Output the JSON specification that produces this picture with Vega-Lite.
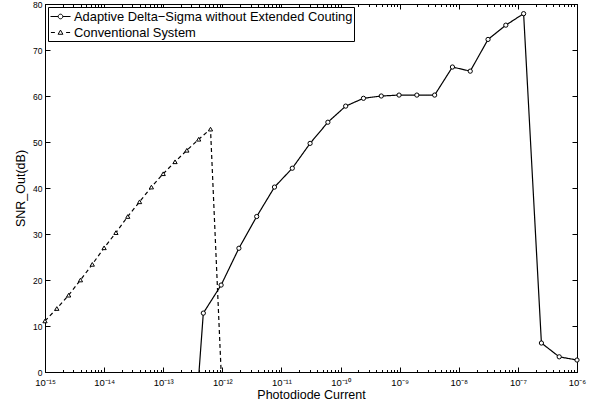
{
  "$schema": "https://vega.github.io/schema/vega-lite/v6.json",
  "width": 532,
  "height": 368,
  "autosize": {"type": "none"},
  "padding": {"left": 45, "top": 4, "right": 19, "bottom": 37},
  "background": "white",
  "config": {
    "font": "Liberation Sans",
    "view": {"stroke": "black", "strokeWidth": 1},
    "axis": {"domainColor": "black", "tickColor": "black", "labelColor": "black", "titleColor": "black", "grid": false, "labelFont": "Liberation Sans", "titleFont": "Liberation Sans", "titleFontWeight": "normal"}
  },
  "datasets": {
    "pts": [
      {"s": "Adaptive Delta−Sigma without Extended Couting", "x": 2.384e-13, "y": -40},
      {"s": "Adaptive Delta−Sigma without Extended Couting", "x": 4.768e-13, "y": 12.8},
      {"s": "Adaptive Delta−Sigma without Extended Couting", "x": 9.537e-13, "y": 18.9},
      {"s": "Adaptive Delta−Sigma without Extended Couting", "x": 1.907e-12, "y": 26.9},
      {"s": "Adaptive Delta−Sigma without Extended Couting", "x": 3.815e-12, "y": 33.8},
      {"s": "Adaptive Delta−Sigma without Extended Couting", "x": 7.629e-12, "y": 40.2},
      {"s": "Adaptive Delta−Sigma without Extended Couting", "x": 1.526e-11, "y": 44.3},
      {"s": "Adaptive Delta−Sigma without Extended Couting", "x": 3.052e-11, "y": 49.7},
      {"s": "Adaptive Delta−Sigma without Extended Couting", "x": 6.104e-11, "y": 54.3},
      {"s": "Adaptive Delta−Sigma without Extended Couting", "x": 1.221e-10, "y": 57.8},
      {"s": "Adaptive Delta−Sigma without Extended Couting", "x": 2.441e-10, "y": 59.5},
      {"s": "Adaptive Delta−Sigma without Extended Couting", "x": 4.883e-10, "y": 60.0},
      {"s": "Adaptive Delta−Sigma without Extended Couting", "x": 9.766e-10, "y": 60.2},
      {"s": "Adaptive Delta−Sigma without Extended Couting", "x": 1.953e-9, "y": 60.2},
      {"s": "Adaptive Delta−Sigma without Extended Couting", "x": 3.906e-9, "y": 60.2},
      {"s": "Adaptive Delta−Sigma without Extended Couting", "x": 7.813e-9, "y": 66.3},
      {"s": "Adaptive Delta−Sigma without Extended Couting", "x": 1.563e-8, "y": 65.4},
      {"s": "Adaptive Delta−Sigma without Extended Couting", "x": 3.125e-8, "y": 72.3},
      {"s": "Adaptive Delta−Sigma without Extended Couting", "x": 6.25e-8, "y": 75.4},
      {"s": "Adaptive Delta−Sigma without Extended Couting", "x": 1.25e-7, "y": 77.9},
      {"s": "Adaptive Delta−Sigma without Extended Couting", "x": 2.5e-7, "y": 6.3},
      {"s": "Adaptive Delta−Sigma without Extended Couting", "x": 5e-7, "y": 3.3},
      {"s": "Adaptive Delta−Sigma without Extended Couting", "x": 1e-6, "y": 2.6},
      {"s": "Conventional System", "x": 1e-15, "y": 11.1},
      {"s": "Conventional System", "x": 1.585e-15, "y": 13.8},
      {"s": "Conventional System", "x": 2.512e-15, "y": 16.7},
      {"s": "Conventional System", "x": 3.981e-15, "y": 20.0},
      {"s": "Conventional System", "x": 6.31e-15, "y": 23.4},
      {"s": "Conventional System", "x": 1e-14, "y": 27.0},
      {"s": "Conventional System", "x": 1.585e-14, "y": 30.3},
      {"s": "Conventional System", "x": 2.512e-14, "y": 33.8},
      {"s": "Conventional System", "x": 3.981e-14, "y": 37.0},
      {"s": "Conventional System", "x": 6.31e-14, "y": 40.2},
      {"s": "Conventional System", "x": 1e-13, "y": 43.1},
      {"s": "Conventional System", "x": 1.585e-13, "y": 45.7},
      {"s": "Conventional System", "x": 2.512e-13, "y": 48.2},
      {"s": "Conventional System", "x": 3.981e-13, "y": 50.6},
      {"s": "Conventional System", "x": 6.31e-13, "y": 52.8},
      {"s": "Conventional System", "x": 1e-12, "y": -6}
    ]
  },
  "data": {"name": "pts"},
  "layer": [
    {
      "mark": {"type": "line", "clip": true, "color": "black", "strokeWidth": 1.2},
      "encoding": {
        "x": {
          "field": "x", "type": "quantitative",
          "scale": {"type": "log", "domain": [1e-15, 1e-6], "nice": false},
          "axis": {
            "orient": "bottom",
            "values": [1e-15,2e-15,3e-15,4e-15,5e-15,6e-15,7e-15,8e-15,9e-15,1e-14,2e-14,3e-14,4e-14,5e-14,6e-14,7e-14,8e-14,9e-14,1e-13,2e-13,3e-13,4e-13,5e-13,6e-13,7e-13,8e-13,9e-13,1e-12,2e-12,3e-12,4e-12,5e-12,6e-12,7e-12,8e-12,9e-12,1e-11,2e-11,3e-11,4e-11,5e-11,6e-11,7e-11,8e-11,9e-11,1e-10,2e-10,3e-10,4e-10,5e-10,6e-10,7e-10,8e-10,9e-10,1e-9,2e-9,3e-9,4e-9,5e-9,6e-9,7e-9,8e-9,9e-9,1e-8,2e-8,3e-8,4e-8,5e-8,6e-8,7e-8,8e-8,9e-8,1e-7,2e-7,3e-7,4e-7,5e-7,6e-7,7e-7,8e-7,9e-7,1e-6],
            "labelExpr": "abs(log(datum.value)/LN10 - round(log(datum.value)/LN10)) < 0.01 ? '10' + (round(log(datum.value)/LN10) == -15 ? '⁻¹⁵' : round(log(datum.value)/LN10) == -14 ? '⁻¹⁴' : round(log(datum.value)/LN10) == -13 ? '⁻¹³' : round(log(datum.value)/LN10) == -12 ? '⁻¹²' : round(log(datum.value)/LN10) == -11 ? '⁻¹¹' : round(log(datum.value)/LN10) == -10 ? '⁻¹⁰' : round(log(datum.value)/LN10) == -9 ? '⁻⁹' : round(log(datum.value)/LN10) == -8 ? '⁻⁸' : round(log(datum.value)/LN10) == -7 ? '⁻⁷' : '⁻⁶') : ''",
            "tickSize": {"condition": {"test": "abs(log(datum.value)/LN10 - round(log(datum.value)/LN10)) < 0.01", "value": -5}, "value": -2.5},
            "labelFontSize": 9.5,
            "labelPadding": 10.5,
            "labelOverlap": false,
            "labelFlush": false,
            "title": "Photodiode Current",
            "titleFontSize": 12.5,
            "titlePadding": -1
          }
        },
        "y": {
          "field": "y", "type": "quantitative",
          "scale": {"domain": [0, 80], "nice": false},
          "axis": {
            "orient": "left",
            "values": [0, 10, 20, 30, 40, 50, 60, 70, 80],
            "tickSize": -5,
            "labelPadding": 8,
            "labelFontSize": 8.5,
            "title": "SNR_Out(dB)",
            "titleFontSize": 12.5,
            "titlePadding": 5
          }
        },
        "strokeDash": {
          "field": "s", "type": "nominal",
          "scale": {"domain": ["Adaptive Delta−Sigma without Extended Couting", "Conventional System"], "range": [[1, 0], [4, 3]]},
          "legend": null
        }
      }
    },
    {
      "transform": [{"filter": "datum.y >= 0"}],
      "mark": {"type": "point", "clip": false, "filled": true, "fill": "white", "stroke": "black", "strokeWidth": 1, "opacity": 1, "size": 18},
      "encoding": {
        "x": {
          "field": "x", "type": "quantitative",
          "axis": {
            "orient": "top",
            "values": [1e-15,2e-15,3e-15,4e-15,5e-15,6e-15,7e-15,8e-15,9e-15,1e-14,2e-14,3e-14,4e-14,5e-14,6e-14,7e-14,8e-14,9e-14,1e-13,2e-13,3e-13,4e-13,5e-13,6e-13,7e-13,8e-13,9e-13,1e-12,2e-12,3e-12,4e-12,5e-12,6e-12,7e-12,8e-12,9e-12,1e-11,2e-11,3e-11,4e-11,5e-11,6e-11,7e-11,8e-11,9e-11,1e-10,2e-10,3e-10,4e-10,5e-10,6e-10,7e-10,8e-10,9e-10,1e-9,2e-9,3e-9,4e-9,5e-9,6e-9,7e-9,8e-9,9e-9,1e-8,2e-8,3e-8,4e-8,5e-8,6e-8,7e-8,8e-8,9e-8,1e-7,2e-7,3e-7,4e-7,5e-7,6e-7,7e-7,8e-7,9e-7,1e-6],
            "labels": false,
            "tickSize": {"condition": {"test": "abs(log(datum.value)/LN10 - round(log(datum.value)/LN10)) < 0.01", "value": -5}, "value": -2.5},
            "title": null
          }
        },
        "y": {
          "field": "y", "type": "quantitative",
          "axis": {"orient": "right", "values": [0, 10, 20, 30, 40, 50, 60, 70, 80], "labels": false, "tickSize": -5, "title": null}
        },
        "shape": {
          "field": "s", "type": "nominal",
          "scale": {"domain": ["Adaptive Delta−Sigma without Extended Couting", "Conventional System"], "range": ["circle", "triangle-up"]},
          "legend": null
        }
      }
    },
    {
      "mark": {"type": "point", "opacity": 0, "color": "black"},
      "encoding": {
        "x": {"field": "x", "type": "quantitative", "axis": null},
        "y": {"field": "y", "type": "quantitative", "axis": null},
        "shape": {
          "field": "s", "type": "nominal",
          "scale": {"domain": ["Adaptive Delta−Sigma without Extended Couting", "Conventional System"],
                    "range": ["M-1,0L-0.04,0M0.54,0L1.5,0M0.54,0A0.29,0.29 0 1 1 -0.04,0A0.29,0.29 0 1 1 0.54,0", "M-0.95,0L-0.45,0M0.95,0L1.45,0M0.25,-0.3L0.55,0.22L-0.05,0.22Z"]},
          "legend": {
            "orient": "none", "legendX": 3, "legendY": 3, "title": null, "padding": 1,
            "strokeColor": "black", "fillColor": "white",
            "labelFont": "Liberation Sans", "labelFontSize": 12.9, "labelColor": "black", "labelLimit": 500,
            "symbolSize": 256, "symbolStrokeColor": "black", "symbolStrokeWidth": 1, "symbolFillColor": "white",
            "symbolOpacity": 1, "symbolOffset": 1, "labelOffset": 7, "rowPadding": 0
          }
        }
      }
    }
  ],
  "resolve": {"scale": {"shape": "independent"}}
}
